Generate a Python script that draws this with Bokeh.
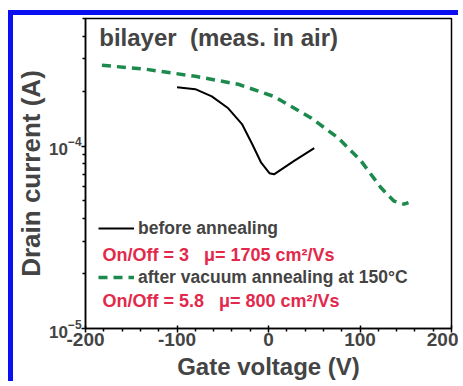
from bokeh.plotting import figure
from bokeh.models import (FixedTicker, LogTickFormatter, Label, Legend, LegendItem, Range1d)
from bokeh.embed import file_html
from bokeh.resources import INLINE

# ---- data ----
v_before = [-100, -80, -62, -44, -29, -18, -8, 1, 6, 28, 50]
i_before = [2.10e-4, 2.05e-4, 1.87e-4, 1.61e-4, 1.32e-4, 1.03e-4, 8.1e-5, 7.1e-5, 7.0e-5, 8.3e-5, 9.75e-5]

v_after = [-182, -135, -80, -33, 6, 47, 76, 101, 123, 137, 148, 153]
i_after = [2.77e-4, 2.64e-4, 2.41e-4, 2.18e-4, 1.87e-4, 1.42e-4, 1.11e-4, 8.3e-5, 5.9e-5, 5.0e-5, 4.8e-5, 4.9e-5]

x_ticks = [-200, -100, 0, 100, 200]
x_tick_labels = ["-200", "-100", "0", "100", "200"]
x_minor = [-180, -160, -140, -120, -80, -60, -40, -20, 20, 40, 60, 80, 120, 140, 160, 180]
y_ticks = [1e-5, 1e-4]
y_minor = [2e-5, 3e-5, 4e-5, 5e-5, 6e-5, 7e-5, 8e-5, 9e-5, 2e-4, 3e-4, 4e-4, 5e-4]

NB = "\u00a0"
title_text = "bilayer" + NB * 2 + "(meas. in air)"
label_before = "before annealing"
label_after = "after vacuum annealing at 150°C"
info_before = "On/Off = 3" + NB * 3 + "μ= 1705 cm²/Vs"
info_after = "On/Off = 5.8" + NB * 3 + "μ= 800 cm²/Vs"

FONT = "Liberation Sans"
RED = "#e3294b"
GREEN = "#1b8a4c"

p = figure(width=450, height=371, y_axis_type="log",
           x_range=Range1d(-200, 200), y_range=Range1d(1e-5, 5e-4),
           output_backend="svg", toolbar_location=None,
           min_border_left=70, min_border_right=12, min_border_top=3, min_border_bottom=58)
p.styles = {"border-top": "5px solid #0a10f0", "border-left": "5px solid #0a10f0",
            "margin-left": "8px", "margin-top": "10px"}

p.grid.visible = False
p.outline_line_color = "black"
p.outline_line_width = 1.5
p.background_fill_color = "white"
p.border_fill_color = "white"

# x axis
xa = p.xaxis[0]
xa.ticker = FixedTicker(ticks=x_ticks, minor_ticks=x_minor)
xa.major_label_overrides = {t: s for t, s in zip(x_ticks, x_tick_labels)}
xa.axis_label = "Gate voltage (V)"
xa.axis_label_text_font = FONT
xa.axis_label_text_font_style = "bold"
xa.axis_label_text_font_size = "24px"
xa.axis_label_standoff = 4
xa.major_label_text_font = FONT
xa.major_label_text_font_style = "bold"
xa.major_label_text_font_size = "19px"
xa.major_label_standoff = 0
xa.major_tick_in = 3
xa.major_tick_out = 4
xa.minor_tick_in = 0
xa.minor_tick_out = 3
xa.axis_line_width = 1.5
xa.major_tick_line_width = 1.5
xa.minor_tick_line_width = 1.5

# y axis
ya = p.yaxis[0]
ya.ticker = FixedTicker(ticks=y_ticks, minor_ticks=y_minor)
ya.formatter = LogTickFormatter()
ya.axis_label = "Drain current (A)"
ya.axis_label_text_font = FONT
ya.axis_label_text_font_style = "bold"
ya.axis_label_text_font_size = "26px"
ya.axis_label_standoff = 0
ya.major_label_text_font = FONT
ya.major_label_text_font_style = "bold"
ya.major_label_text_font_size = "17px"
ya.major_label_standoff = 0
ya.major_tick_in = 0
ya.major_tick_out = 4
ya.minor_tick_in = 0
ya.minor_tick_out = 3
ya.axis_line_width = 1.5
ya.major_tick_line_width = 1.5
ya.minor_tick_line_width = 1.5

r_before = p.line(v_before, i_before, line_color="black", line_width=2)
r_after = p.line(v_after, i_after, line_color=GREEN, line_width=3.5, line_dash="9 6")

legend = Legend(items=[LegendItem(label=label_before, renderers=[r_before]),
                       LegendItem(label=label_after, renderers=[r_after])],
                location=(13, 40), padding=0, margin=0, spacing=27,
                glyph_width=36, glyph_height=22, label_height=22, label_standoff=4,
                border_line_color=None, background_fill_alpha=0,
                label_text_font=FONT, label_text_font_style="bold",
                label_text_font_size="17.5px")
p.add_layout(legend)

p.add_layout(Label(x=-185, y=3.94e-4, text=title_text, text_font=FONT,
                   text_font_style="bold", text_font_size="24px", text_baseline="middle"))
p.add_layout(Label(x=-181.5, y=2.53e-5, text=info_before, text_font=FONT,
                   text_font_style="bold", text_font_size="18px", text_baseline="middle",
                   text_color=RED))
p.add_layout(Label(x=-181.5, y=1.41e-5, text=info_after, text_font=FONT,
                   text_font_style="bold", text_font_size="18px", text_baseline="middle",
                   text_color=RED))

open("out.html", "w").write(file_html(p, INLINE))
